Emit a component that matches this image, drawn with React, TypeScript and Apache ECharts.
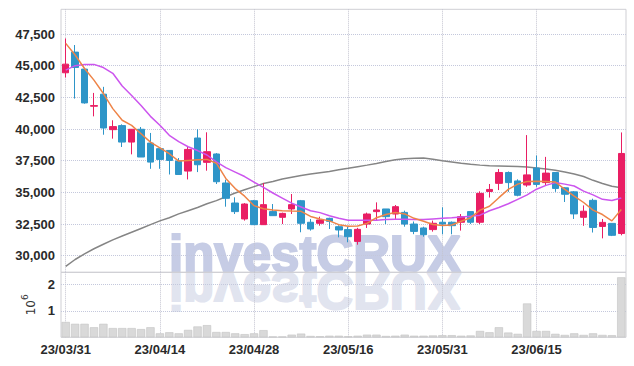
import React, { useEffect, useRef } from 'react';
import * as echarts from 'echarts';

const dates = [
  '23/03/31',
  '23/04/03', '23/04/04', '23/04/05', '23/04/06', '23/04/07', '23/04/10', '23/04/11', '23/04/12', '23/04/13', '23/04/14',
  '23/04/17', '23/04/18', '23/04/19', '23/04/20', '23/04/21', '23/04/24', '23/04/25', '23/04/26', '23/04/27', '23/04/28',
  '23/05/02', '23/05/03', '23/05/04', '23/05/08', '23/05/09', '23/05/10', '23/05/11', '23/05/12', '23/05/15', '23/05/16',
  '23/05/17', '23/05/18', '23/05/19', '23/05/22', '23/05/23', '23/05/24', '23/05/25', '23/05/26', '23/05/30', '23/05/31',
  '23/06/01', '23/06/02', '23/06/05', '23/06/07', '23/06/08', '23/06/09', '23/06/12', '23/06/13', '23/06/14', '23/06/15',
  '23/06/16', '23/06/19', '23/06/20', '23/06/21', '23/06/22', '23/06/23', '23/06/26', '23/06/27', '23/06/28',
];

const opens = [
  44440, 46070, 44730, 41800, 42750, 39950, 40270, 38970, 39980, 38890,
  38450, 38310, 37470, 36680, 39290, 37370, 38030, 35740, 34160, 32900,
  34340, 32450, 33480, 33030, 33690, 34340, 32640, 32560, 32950, 32290,
  32060, 31130, 32500, 33480, 33690, 33290, 33420, 32500, 32190, 32060,
  32640, 32640, 32640, 33480, 32640, 35070, 35710, 36570, 35900, 35580,
  36920, 35770, 36570, 35360, 35040, 33030, 34370, 32310, 32550, 31750,
];
const closes = [
  45120, 44860, 42060, 41850, 40080, 40190, 38970, 39980, 37790, 37390,
  37600, 37520, 36410, 38390, 37180, 38210, 35840, 34530, 33480, 34080,
  32450, 34030, 33160, 33340, 34030, 32560, 32110, 32820, 32710, 32030,
  31500, 32080, 33290, 33610, 33080, 33870, 32500, 31920, 31660, 32560,
  32500, 32370, 33080, 32640, 34920, 35230, 36570, 35770, 34770, 36380,
  35630, 36520, 35310, 34850, 33300, 33510, 32230, 32630, 31610, 38070,
];
const lows = [
  44070, 42400, 42000, 41000, 39550, 39240, 38580, 38000, 37790, 36860,
  36860, 36410, 36410, 36020, 36600, 36710, 35660, 33870, 33290, 32770,
  32450, 32450, 33160, 32500, 33290, 31850, 31980, 32370, 32110, 31450,
  31060, 30870, 32190, 32770, 32500, 32900, 32290, 31700, 31500, 31900,
  31690, 31690, 31980, 32500, 32500, 34590, 35180, 35040, 34690, 35440,
  35440, 35500, 35040, 34240, 32900, 32360, 31830, 31370, 31550, 31610,
];
const highs = [
  47150, 46630, 44800, 42850, 43330, 40690, 40370, 40000, 40160, 39690,
  38450, 38310, 37710, 38580, 39980, 39740, 38100, 36000, 34610, 34150,
  34400, 35740, 34080, 33400, 34870, 34400, 32900, 33080, 33000, 32400,
  32290, 32200, 33400, 34210, 33690, 34000, 33560, 32700, 32290, 32770,
  33820, 32700, 33290, 33480, 35080, 35660, 36840, 36650, 36030, 39520,
  37910, 37800, 36570, 35400, 35100, 33970, 34500, 32900, 32550, 39730,
];

const ma5 = [
  46760, 45840, 44780, 43860, 42800, 41610, 40690, 40290, 39630, 38970,
  38520, 38050, 37470, 37520, 37570, 37600, 37300, 36100, 35300, 34700,
  33950, 33700, 33600, 33550, 33520, 33500, 33100, 32900, 32750, 32450,
  32330, 32350, 32550, 33000, 33250, 33410, 33300, 32950, 32720, 32460,
  32380, 32420, 32720, 33000, 33600, 33900, 34580, 35240, 35650, 35850,
  35870, 35850, 35820, 35240, 34710, 34200, 33600, 33250, 32750, 33650,
];
const ma20 = [
  44650, 45000, 45100, 45100, 44850, 44400, 43400, 42650, 41850, 41000,
  40300, 39500, 39000, 38600, 38300, 37950, 37400, 36950, 36600, 36250,
  35800, 35400, 34950, 34550, 34150, 33850, 33550, 33400, 33150, 32950,
  32800, 32800, 32800, 32800, 32850, 32880, 32880, 32850, 32850, 32900,
  32950, 32990, 33050, 33120, 33200, 33550, 33800, 34100, 34450, 34800,
  35250, 35550, 35770, 35650, 35500, 35100, 34800, 34450, 34350, 34550,
];
const maLong = [
  29150, 29700, 30150, 30550, 30900, 31250, 31550, 31850, 32150, 32450,
  32750, 33000, 33300, 33550, 33800, 34100, 34350, 34650, 34950, 35200,
  35450, 35700, 35850, 36050, 36200, 36330, 36450, 36550, 36650, 36780,
  36900, 37030, 37150, 37280, 37430, 37570, 37650, 37700, 37720, 37620,
  37500, 37400, 37300, 37220, 37150, 37100, 37080, 37060, 37040, 37000,
  36930, 36850, 36750, 36600, 36450, 36250, 35950, 35700, 35480, 35370,
];

const volumes = [
  580000, 510000, 510000, 380000, 510000, 350000, 350000, 350000, 310000, 380000,
  150000, 190000, 150000, 280000, 410000, 460000, 200000, 200000, 150000, 120000,
  150000, 270000, 30000, 30000, 100000, 140000, 50000, 40000, 60000, 60000,
  40000, 60000, 100000, 100000, 50000, 60000, 100000, 60000, 60000, 70000,
  80000, 80000, 60000, 70000, 240000, 190000, 380000, 180000, 130000, 1280000,
  240000, 240000, 130000, 90000, 150000, 90000, 150000, 90000, 80000, 2270000,
];

const priceTicks = [30000, 32500, 35000, 37500, 40000, 42500, 45000, 47500];
const volumeTicks = [1000000, 2000000];

const UP = '#e91e63';
const DOWN = '#2e95c8';
const FONT = '"Liberation Sans", Arial, sans-serif';

export default function App() {
  const ref = useRef<HTMLDivElement>(null);

  useEffect(() => {
    if (!ref.current) return;
    const chart = echarts.init(ref.current, null, { renderer: 'svg' });
    const candles = opens.map((o, i) => [o, closes[i], lows[i], highs[i]]);
    const gridLeft = 61;
    const gridWidth = 565;
    const vSplit = {
      show: true,
      interval: 9,
      alignWithLabel: true,
      lineStyle: { type: 'dotted', color: '#c4c4d0', width: 1 },
    };
    const labelStyle = {
      color: '#2a2a2a',
      fontSize: 13,
      fontWeight: 'bold',
      fontFamily: FONT,
    };
    const wmFont = 'bold 51px "Liberation Sans", Arial, sans-serif';
    const option: any = {
      animation: false,
      backgroundColor: '#ffffff',
      graphic: [
        {
          type: 'text',
          x: 315,
          y: 272,
          z: -10,
          silent: true,
          style: {
            text: 'investCRUX',
            x: 0,
            y: -17.7,
            align: 'center',
            verticalAlign: 'middle',
            font: wmFont,
            fill: '#c6cce5',
            stroke: '#c6cce5',
            lineWidth: 2,
          },
        },
        {
          type: 'text',
          x: 315,
          y: 273,
          scaleY: -1,
          z: -10,
          silent: true,
          style: {
            text: 'investCRUX',
            x: 0,
            y: -17.7,
            align: 'center',
            verticalAlign: 'middle',
            font: wmFont,
            fill: '#e1e4ef',
            stroke: '#e1e4ef',
            lineWidth: 2,
          },
        },
      ],
      grid: [
        { left: gridLeft, top: 9.3, width: gridWidth, height: 263, show: true, borderColor: '#cfcfd4', borderWidth: 1 },
        { left: gridLeft, top: 272.3, width: gridWidth, height: 65, show: true, borderColor: '#cfcfd4', borderWidth: 1 },
      ],
      xAxis: [
        {
          type: 'category',
          gridIndex: 0,
          data: dates,
          boundaryGap: true,
          axisLine: { show: false },
          axisTick: { show: false },
          axisLabel: { show: false },
          splitLine: vSplit,
        },
        {
          type: 'category',
          gridIndex: 1,
          data: dates,
          boundaryGap: true,
          axisLine: { show: false },
          axisTick: { show: false },
          axisLabel: {
            show: true,
            interval: 9,
            margin: 6,
            ...labelStyle,
          },
          splitLine: vSplit,
        },
      ],
      yAxis: [
        {
          type: 'value',
          gridIndex: 0,
          min: 28690,
          max: 49450,
          axisLine: { show: false },
          axisTick: { show: false, customValues: priceTicks },
          axisLabel: {
            customValues: priceTicks,
            margin: 6,
            padding: [3, 0, 0, 0],
            ...labelStyle,
            formatter: (v: number) => v.toLocaleString('en-US'),
          },
          splitLine: { show: true, lineStyle: { type: 'dotted', color: '#c4c8dc' } },
        },
        {
          type: 'value',
          gridIndex: 1,
          min: 0,
          max: 2460000,
          axisLine: { show: false },
          axisTick: { show: false, customValues: volumeTicks },
          axisLabel: {
            customValues: volumeTicks,
            margin: 6,
            ...labelStyle,
            formatter: (v: number) => String(Math.round(v / 1000000)),
          },
          splitLine: { show: true, lineStyle: { type: 'dotted', color: '#c4c8dc' } },
          name: '{a|10}{b|6}',
          nameLocation: 'middle',
          nameRotate: 90,
          nameGap: 21,
          nameTextStyle: {
            rich: {
              a: { fontSize: 12, fontFamily: 'DejaVu Sans', color: '#333', verticalAlign: 'bottom', lineHeight: 16 },
              b: { fontSize: 9, fontFamily: 'DejaVu Sans', color: '#333', verticalAlign: 'top', lineHeight: 16 },
            },
          },
        },
      ],
      series: [
        {
          type: 'line',
          name: 'long',
          xAxisIndex: 0,
          yAxisIndex: 0,
          data: maLong,
          showSymbol: false,
          lineStyle: { color: '#858585', width: 1.5 },
          z: 1,
        },
        {
          type: 'candlestick',
          xAxisIndex: 0,
          yAxisIndex: 0,
          data: candles,
          barWidth: 7,
          itemStyle: {
            color: UP,
            color0: DOWN,
            borderColor: UP,
            borderColor0: DOWN,
            borderWidth: 1,
          },
          z: 2,
        },
        {
          type: 'line',
          name: 'ma20',
          xAxisIndex: 0,
          yAxisIndex: 0,
          data: ma20,
          showSymbol: false,
          lineStyle: { color: '#cc55ee', width: 1.5 },
          z: 3,
        },
        {
          type: 'line',
          name: 'ma5',
          xAxisIndex: 0,
          yAxisIndex: 0,
          data: ma5,
          showSymbol: false,
          lineStyle: { color: '#ee8448', width: 1.5 },
          z: 4,
        },
        {
          type: 'bar',
          xAxisIndex: 1,
          yAxisIndex: 1,
          data: volumes,
          barCategoryGap: '12%',
          itemStyle: { color: '#d9d9d9', borderColor: '#c2c2c2', borderWidth: 0.6 },
        },
      ],
    };
    chart.setOption(option);
    return () => chart.dispose();
  }, []);

  return <div ref={ref} style={{ position: 'fixed', left: 0, top: 0, width: 634, height: 366 }} />;
}
